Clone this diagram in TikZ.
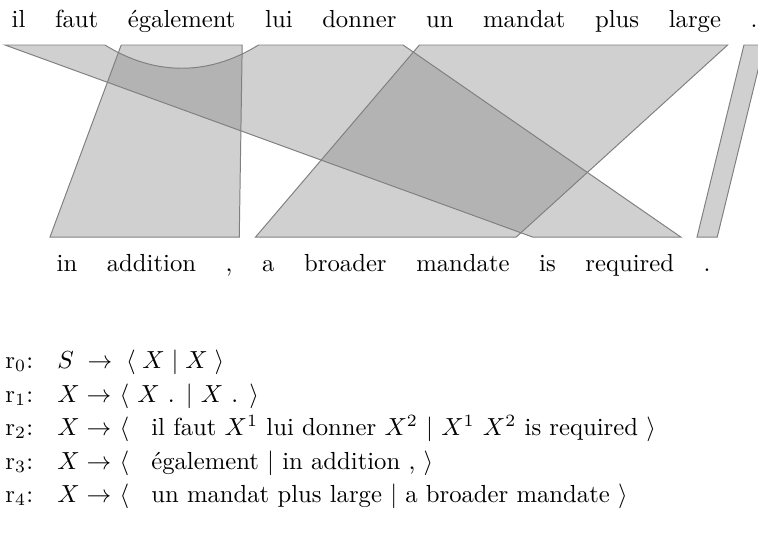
\documentclass[tikz,border=0pt]{standalone}
\usepackage{fontspec}
\usepackage{amsmath, amssymb}
\usetikzlibrary{positioning}

\tikzset{
  word/.style={inner sep=2.5pt},
  alignbox/.style={fill=black!50, fill opacity=0.37, draw=black!50, line width=0.4pt},
  rulerow/.style={inner sep=0pt, anchor=base west},
}
\newcommand{\rlab}[1]{\makebox[21pt][l]{r$_{#1}$:}}
\newcommand{\lopen}{$\langle$\hspace{9pt}}

\begin{document}
\begin{tikzpicture}[x=0.405pt, y=-0.405pt, node distance=6.6pt]
\useasboundingbox (0,0) rectangle (758,542);
% source side
\node[word, anchor=base west] (fil) at (5,27) {il};
\node[word, base right=of fil] (ffaut) {faut};
\node[word, base right=of ffaut] (fegal) {également};
\node[word, base right=of fegal] (flui) {lui};
\node[word, base right=of flui] (fdonner) {donner};
\node[word, base right=of fdonner] (fun) {un};
\node[word, base right=of fun] (fmandat) {mandat};
\node[word, base right=of fmandat] (fplus) {plus};
\node[word, base right=of fplus] (flarge) {large};
\node[word, base right=of flarge] (fdot) {.};
% target side
\node[word, anchor=base west] (ein) at (50,271) {in};
\node[word, base right=of ein] (eaddition) {addition};
\node[word, base right=of eaddition] (ecomma) {,};
\node[word, base right=of ecomma] (ea) {a};
\node[word, base right=of ea] (ebroader) {broader};
\node[word, base right=of ebroader] (emandate) {mandate};
\node[word, base right=of emandate] (eis) {is};
\node[word, base right=of eis] (erequired) {required};
\node[word, base right=of erequired] (edot) {.};
\coordinate (top) at (0,45);
\coordinate (bot) at (0,237);
% r2: il faut X1 lui donner X2 | X1 X2 is required
\draw[alignbox] (fil.west |- top) -- (ffaut.east |- top)
  .. controls +(50,31) and +(-50,31) .. (flui.west |- top)
  -- (fdonner.east |- top) -- (erequired.east |- bot) -- (eis.west |- bot) -- cycle;
% r3
\draw[alignbox] (fegal.west |- top) -- (fegal.east |- top) -- (ecomma.east |- bot) -- (ein.west |- bot) -- cycle;
% r4
\draw[alignbox] (fun.west |- top) -- (flarge.east |- top) -- (emandate.east |- bot) -- (ea.west |- bot) -- cycle;
% r1
\draw[alignbox] (fdot.west |- top) -- (fdot.east |- top) -- (edot.east |- bot) -- (edot.west |- bot) -- cycle;
% rules
\node[rulerow] (r0) at (5,368) {\rlab{0}$S\;\rightarrow\;\langle\;X \mid X\;\rangle$};
\node[rulerow] (r1) at (5,402) {\rlab{1}$X \rightarrow$ $\langle$ $X$ . $\mid$ $X$ . $\rangle$};
\node[rulerow] (r2) at (5,435) {\rlab{2}$X \rightarrow$ \lopen il faut $X^1$ lui donner $X^2$ $\mid$ $X^1$ $X^2$ is required $\rangle$};
\node[rulerow] (r3) at (5,469) {\rlab{3}$X \rightarrow$ \lopen également $\mid$ in addition , $\rangle$};
\node[rulerow] (r4) at (5,502) {\rlab{4}$X \rightarrow$ \lopen un mandat plus large $\mid$ a broader mandate $\rangle$};
\end{tikzpicture}
\end{document}
